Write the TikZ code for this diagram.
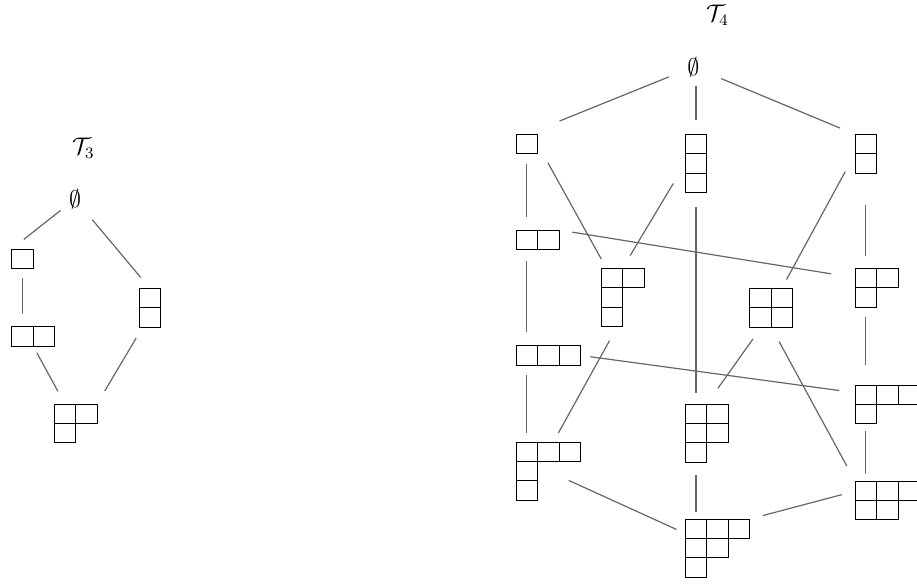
\documentclass[tikz,border=0pt]{standalone}
\usepackage{tikz}
\tikzset{
    cell/.style={draw=black, line width=0.5pt},
    link/.style={draw=black!60, line width=0.6pt},
    cut/.style 2 args={shorten <=#1, shorten >=#2},
    young/.style 2 args={inner sep=0pt, outer sep=0pt, anchor=north west,
        minimum width=#1*10.75pt, minimum height=#2*9.7pt}
}
% rows of a Young diagram, hung from the north west corner of node #1
\newcommand{\yrows}[2]{%
    \foreach \len [count=\r] in {#2}{
        \foreach \c in {1,...,\len}{
            \draw[cell, shift={(#1.north west)}] ({(\c-1)*\cw},{(\r-1)*\ch}) rectangle ++(\cw,\ch);
        }
    }
}

\begin{document}
\begin{tikzpicture}[x=0.5pt, y=-0.5pt]
    \def \cw {21.5}
    \def \ch {19.4}
    \tikzstyle{every node}=[font=\large];
    \useasboundingbox (0,0) rectangle (917,584);
    % T_3
    \node[inner sep=0pt] (t3) at (83.3,148) {$\mathcal{T}_3$};
    \node (e3) at (75,199) {$\emptyset$};
    \node[young={1}{1}] (p1) at (11.7,249) {};
    \node[young={1}{2}] (p11) at (139,288.3) {};
    \node[young={2}{1}] (p2) at (11.7,326.7) {};
    \node[young={2}{2}] (p21) at (54,404) {};
    \yrows{p1}{1}
    \yrows{p11}{1,1}
    \yrows{p2}{2}
    \yrows{p21}{2,1}
    \draw[link, cut={9.2pt}{7.7pt}] (e3.center) -- (p1.north west);
    \draw[link, cut={13.5pt}{7.1pt}] (e3.center) -- (p11.north);
    \draw[link, cut={4.7pt}{6.2pt}] (p1.south) -- (p1.south |- p2.north);
    \draw[link, cut={3.8pt}{7.2pt}] (p2.south) -- (p21);
    \draw[link, cut={6.4pt}{7.6pt}] (p11.-110) -- (p21.north east);
    % T_4
    \node[inner sep=0pt] (t4) at (717.5,15) {$\mathcal{T}_4$};
    \node (e4) at (693.3,67) {$\emptyset$};
    \node[young={1}{1}] (q1) at (516,134.3) {};
    \node[young={1}{3}] (q111) at (685.3,134.3) {};
    \node[young={1}{2}] (q11) at (855,134.3) {};
    \node[young={2}{1}] (q2) at (516,230) {};
    \node[young={2}{3}] (q211) at (601,268.3) {};
    \node[young={2}{2}] (q22) at (749.7,288.3) {};
    \node[young={2}{2}] (q21) at (855,268.3) {};
    \node[young={3}{1}] (q3) at (516,345.7) {};
    \node[young={2}{3}] (q221) at (685.3,404) {};
    \node[young={3}{2}] (q31) at (855,385) {};
    \node[young={3}{3}] (q311) at (516,442) {};
    \node[young={3}{2}] (q32) at (855,481) {};
    \node[young={3}{3}] (q321) at (685.3,519) {};
    \yrows{q1}{1}
    \yrows{q111}{1,1,1}
    \yrows{q11}{1,1}
    \yrows{q2}{2}
    \yrows{q211}{2,1,1}
    \yrows{q22}{2,2}
    \yrows{q21}{2,1}
    \yrows{q3}{3}
    \yrows{q221}{2,2,1}
    \yrows{q31}{3,1}
    \yrows{q311}{3,1,1}
    \yrows{q32}{3,2}
    \yrows{q321}{3,2,1}
    \draw[link, cut={13.2pt}{17.7pt}] (e4.center) -- (q1.north);
    \draw[link, cut={9.4pt}{7.2pt}] (e4.center -| q111) -- (q111.north);
    \draw[link, cut={15.1pt}{8.1pt}] (e4.center) -- (q11.north west);
    \draw[link, cut={5.2pt}{6.4pt}] (q1.south) -- (q1.south |- q2.north);
    \draw[link, cut={10.7pt}{5.2pt}] (q1.east) -- (q211);
    \draw[link, cut={11.7pt}{7.4pt}] (q111.west) -- (q211.north);
    \draw[link, cut={7pt}{5.3pt}] (q111.south) -- (q111.south |- q221.north);
    \draw[link, cut={6.7pt}{12.1pt}] (q2.north east) -- (q21.155);
    \draw[link, cut={10.2pt}{5pt}] (q11.west) -- (q22);
    \draw[link, cut={15.7pt}{6.3pt}] (q11.south) -- (q11.south |- q21.north);
    \draw[link, cut={5.7pt}{6.7pt}] (q2.south -| q1) -- (q3.north -| q1);
    \draw[link, cut={8.1pt}{5.2pt}] (q211.-100) -- (q311.80);
    \draw[link, cut={5pt}{7.9pt}] (q3.east) -- (q31.160);
    \draw[link, cut={7.2pt}{9.6pt}] (q22.-117) -- (q221.north);
    \draw[link, cut={8.2pt}{8.5pt}] (q22.south) -- (q32.north west);
    \draw[link, cut={4.8pt}{10pt}] (q21.south -| q11) -- (q31.north -| q11);
    \draw[link, cut={5pt}{4.7pt}] (q3.south -| q1) -- (q311.north -| q1);
    \draw[link, cut={3.5pt}{3.5pt}] (q31.south -| q11) -- (q32.north -| q11);
    \draw[link, cut={11.3pt}{22.5pt}] (q311.center) -- (q321.center);
    \draw[link, cut={6.4pt}{3.4pt}] (q221.south -| q111) -- (q321.north -| q111);
    \draw[link, cut={6.9pt}{6.7pt}] (q32.164) -- (q321.north east);
\end{tikzpicture}
\end{document}
